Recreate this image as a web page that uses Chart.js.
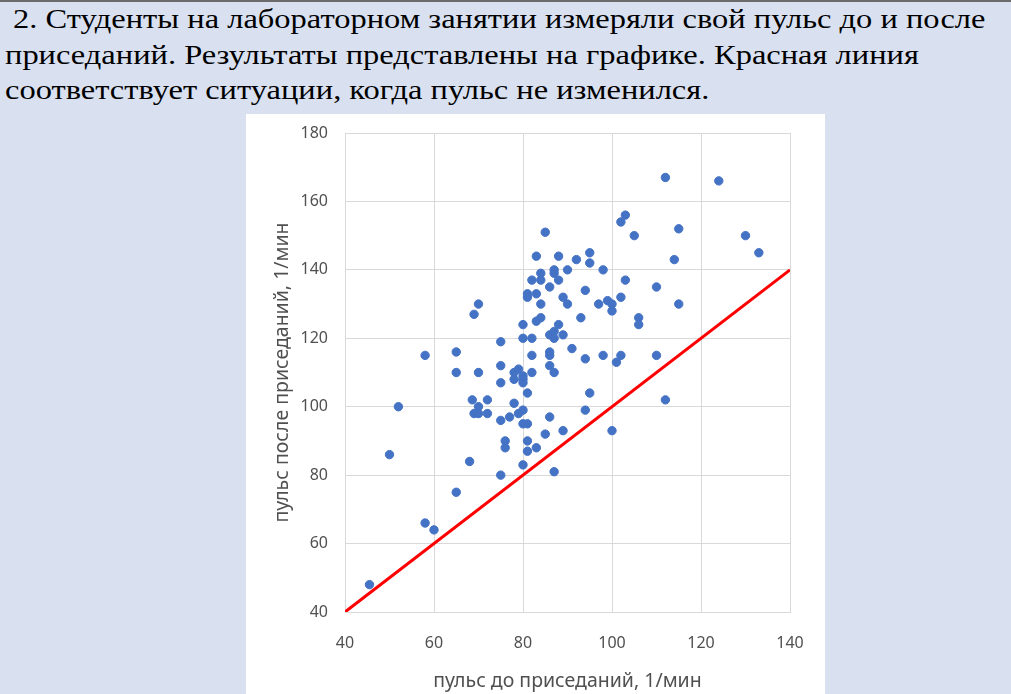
<!DOCTYPE html>
<html>
<head>
<meta charset="utf-8">
<script src="https://cdn.jsdelivr.net/npm/chart.js@4/dist/chart.umd.min.js"></script>
<style>
  html,body{margin:0;padding:0;}
  body{width:1011px;height:694px;background:#d9e1f1;position:relative;overflow:hidden;}
  #topline{position:absolute;left:0;top:0;width:1011px;height:2px;background:#6b6b6b;}
  #task{position:absolute;left:5px;top:1px;font-family:"Liberation Serif","DejaVu Serif",serif;font-size:28px;line-height:35.5px;color:#000;white-space:nowrap;transform:scaleX(1.16);transform-origin:0 0;}
  #box{position:absolute;left:246px;top:114px;width:579px;height:580px;background:#fff;}
</style>
</head>
<body>
<div id="topline"></div>
<div id="task">&nbsp;2. Студенты на лабораторном занятии измеряли свой пульс до и после<br>приседаний. Результаты представлены на графике. Красная линия<br>соответствует ситуации, когда пульс не изменился.</div>
<div id="box"><canvas id="pulseChart" width="579" height="580"></canvas></div>
<script>
// пульс до приседаний (x) и после (y), по точкам
const pulseBefore=[112,124,103,102,105,115,130,133,114,85,83,88,95,95,92,87,87,84,84,82,88,90,98,103,86,110,94,81,81,83,89,102,84,90,97,99,100,100,115,70,69,93,106,106,84,83,80,88,86,87,87,89,80,82,75,91,58,65,82,86,86,94,98,102,110,101,75,86,65,70,78,79,80,78,80,82,87,75,80,81,95,68.6,72,78,112,52,70,69,70,72,77,79,80,86,94,75,80,81,89,100,85,76,81,76,83,81,50,68,80,87,75,65,58,60,45.5];
const pulseAfter=[167,166,156,154,150,152,150,145,143,151,144,144,145,142,143,140,139,139,137,137,137,140,140,137,135,135,134,133,132,133,132,132,130,130,130,131,130,128,130,130,127,126,126,124,126,125,124,124,121,122,120,121,120,120,119,117,115,116,115,116,115,114,115,115,115,113,112,112,110,110,110,111,109,108,108,110,110,107,107,104,104,102,102,101,102,100,100,98,98,98,97,98,99,97,99,96,95,95,93,93,92,90,90,88,88,87,86,84,83,81,80,75,66,64,48];
const xTicks=[40,60,80,100,120,140];
const yTicks=[40,60,80,100,120,140,160,180];
// линия "пульс не изменился": y = x
const noChange=[40,140];

const points=pulseBefore.map((x,i)=>({x:x,y:pulseAfter[i]}));
const diag=noChange.map(v=>({x:v,y:v}));

const ctx=document.getElementById('pulseChart');
new Chart(ctx,{
  type:'scatter',
  data:{
    datasets:[{
      data:points,
      backgroundColor:'#4472c4',
      borderColor:'#4472c4',
      pointRadius:4.2,
      pointHoverRadius:4.2
    },{
      data:diag,
      showLine:true,
      borderColor:'#ff0000',
      borderWidth:3,
      pointRadius:0
    }]
  },
  options:{
    responsive:false,
    animation:false,
    layout:{padding:{top:19,right:35,left:0,bottom:0}},
    plugins:{legend:{display:false},tooltip:{enabled:false}},
    scales:{
      x:{
        min:40,max:140,
        afterBuildTicks:s=>{s.ticks=xTicks.map(v=>({value:v}));},
        afterFit:s=>{s.height=82;},
        grid:{color:'#d9d9d9',drawTicks:true,tickLength:22,tickColor:'rgba(0,0,0,0)'},
        border:{color:'#d9d9d9'},
        ticks:{padding:0,color:'#505050',font:{family:'Noto Sans',size:16}},
        title:{display:true,text:'пульс до приседаний, 1/мин',color:'#505050',font:{family:'Noto Sans',size:19.5},padding:{top:0,bottom:1}}
      },
      y:{
        min:40,max:180,
        afterBuildTicks:s=>{s.ticks=yTicks.map(v=>({value:v}));},
        afterFit:s=>{s.width=99;},
        grid:{color:'#d9d9d9',drawTicks:true,tickLength:17,tickColor:'rgba(0,0,0,0)'},
        border:{color:'#d9d9d9'},
        ticks:{padding:0,color:'#505050',font:{family:'Noto Sans',size:16}},
        title:{display:true,text:'пульс после приседаний, 1/мин',color:'#505050',font:{family:'Noto Sans',size:19.5},padding:{top:25,bottom:0}}
      }
    }
  }
});
</script>
</body>
</html>
